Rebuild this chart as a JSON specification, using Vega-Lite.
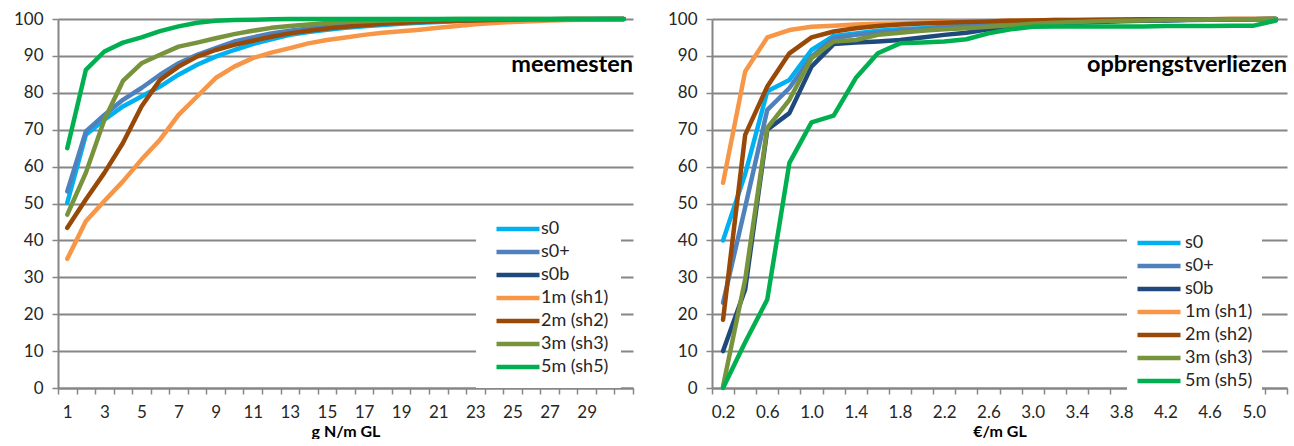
{
  "$schema": "https://vega.github.io/schema/vega-lite/v6.json",
  "background": "white",
  "padding": {"left": 0, "top": 10, "right": 5, "bottom": 0},
  "spacing": 11,
  "config": {
    "view": {"stroke": null},
    "font": "Lato",
    "axis": {
      "domainColor": "#868686", "domainWidth": 2,
      "tickColor": "#868686", "tickWidth": 1.5, "tickSize": 6,
      "gridColor": "#868686", "gridWidth": 2,
      "labelFont": "Lato", "labelColor": "#262626",
      "titleFont": "Lato", "titleColor": "#000000"
    },
    "line": {"strokeWidth": 4.5, "strokeJoin": "round", "strokeCap": "round"}
  },
  "resolve": {"legend": {"color": "independent"}},
  "datasets": {
    "meemesten": [
      {"x":1,"serie":"s0","v":50.2},{"x":2,"serie":"s0","v":68.6},{"x":3,"serie":"s0","v":72.7},{"x":4,"serie":"s0","v":76.3},{"x":5,"serie":"s0","v":79},{"x":6,"serie":"s0","v":81.7},{"x":7,"serie":"s0","v":84.9},{"x":8,"serie":"s0","v":87.6},{"x":9,"serie":"s0","v":89.8},{"x":10,"serie":"s0","v":91.6},{"x":11,"serie":"s0","v":93.2},{"x":12,"serie":"s0","v":94.5},{"x":13,"serie":"s0","v":95.7},{"x":14,"serie":"s0","v":96.5},{"x":15,"serie":"s0","v":97.1},{"x":16,"serie":"s0","v":97.6},{"x":17,"serie":"s0","v":98.0},{"x":18,"serie":"s0","v":98.4},{"x":19,"serie":"s0","v":98.7},{"x":20,"serie":"s0","v":99.0},{"x":21,"serie":"s0","v":99.2},{"x":22,"serie":"s0","v":99.4},{"x":23,"serie":"s0","v":99.5},{"x":24,"serie":"s0","v":99.6},{"x":25,"serie":"s0","v":99.7},{"x":26,"serie":"s0","v":99.8},{"x":27,"serie":"s0","v":99.85},{"x":28,"serie":"s0","v":99.9},{"x":29,"serie":"s0","v":99.95},{"x":30,"serie":"s0","v":100},{"x":31,"serie":"s0","v":100},
      {"x":1,"serie":"s0+","v":53.3},{"x":2,"serie":"s0+","v":69.5},{"x":3,"serie":"s0+","v":74},{"x":4,"serie":"s0+","v":78.1},{"x":5,"serie":"s0+","v":81.3},{"x":6,"serie":"s0+","v":84.9},{"x":7,"serie":"s0+","v":88},{"x":8,"serie":"s0+","v":90.3},{"x":9,"serie":"s0+","v":92.1},{"x":10,"serie":"s0+","v":93.9},{"x":11,"serie":"s0+","v":95},{"x":12,"serie":"s0+","v":96.1},{"x":13,"serie":"s0+","v":96.8},{"x":14,"serie":"s0+","v":97.4},{"x":15,"serie":"s0+","v":97.9},{"x":16,"serie":"s0+","v":98.3},{"x":17,"serie":"s0+","v":98.7},{"x":18,"serie":"s0+","v":99},{"x":19,"serie":"s0+","v":99.2},{"x":20,"serie":"s0+","v":99.4},{"x":21,"serie":"s0+","v":99.5},{"x":22,"serie":"s0+","v":99.6},{"x":23,"serie":"s0+","v":99.7},{"x":24,"serie":"s0+","v":99.8},{"x":25,"serie":"s0+","v":99.85},{"x":26,"serie":"s0+","v":99.9},{"x":27,"serie":"s0+","v":99.95},{"x":28,"serie":"s0+","v":100},{"x":29,"serie":"s0+","v":100},{"x":30,"serie":"s0+","v":100},{"x":31,"serie":"s0+","v":100},
      {"x":1,"serie":"1m (sh1)","v":35},{"x":2,"serie":"1m (sh1)","v":45.2},{"x":3,"serie":"1m (sh1)","v":50.7},{"x":4,"serie":"1m (sh1)","v":56},{"x":5,"serie":"1m (sh1)","v":61.9},{"x":6,"serie":"1m (sh1)","v":67.3},{"x":7,"serie":"1m (sh1)","v":74},{"x":8,"serie":"1m (sh1)","v":79},{"x":9,"serie":"1m (sh1)","v":84},{"x":10,"serie":"1m (sh1)","v":87.1},{"x":11,"serie":"1m (sh1)","v":89.4},{"x":12,"serie":"1m (sh1)","v":90.9},{"x":13,"serie":"1m (sh1)","v":92.1},{"x":14,"serie":"1m (sh1)","v":93.4},{"x":15,"serie":"1m (sh1)","v":94.3},{"x":16,"serie":"1m (sh1)","v":95},{"x":17,"serie":"1m (sh1)","v":95.7},{"x":18,"serie":"1m (sh1)","v":96.3},{"x":19,"serie":"1m (sh1)","v":96.7},{"x":20,"serie":"1m (sh1)","v":97.1},{"x":21,"serie":"1m (sh1)","v":97.6},{"x":22,"serie":"1m (sh1)","v":98.1},{"x":23,"serie":"1m (sh1)","v":98.6},{"x":24,"serie":"1m (sh1)","v":98.9},{"x":25,"serie":"1m (sh1)","v":99.2},{"x":26,"serie":"1m (sh1)","v":99.4},{"x":27,"serie":"1m (sh1)","v":99.6},{"x":28,"serie":"1m (sh1)","v":99.7},{"x":29,"serie":"1m (sh1)","v":99.8},{"x":30,"serie":"1m (sh1)","v":99.9},{"x":31,"serie":"1m (sh1)","v":100},
      {"x":1,"serie":"2m (sh2)","v":43.4},{"x":2,"serie":"2m (sh2)","v":51.1},{"x":3,"serie":"2m (sh2)","v":58.3},{"x":4,"serie":"2m (sh2)","v":66.4},{"x":5,"serie":"2m (sh2)","v":76.3},{"x":6,"serie":"2m (sh2)","v":83.5},{"x":7,"serie":"2m (sh2)","v":87.1},{"x":8,"serie":"2m (sh2)","v":89.8},{"x":9,"serie":"2m (sh2)","v":91.6},{"x":10,"serie":"2m (sh2)","v":93},{"x":11,"serie":"2m (sh2)","v":94.1},{"x":12,"serie":"2m (sh2)","v":95.2},{"x":13,"serie":"2m (sh2)","v":96.1},{"x":14,"serie":"2m (sh2)","v":96.8},{"x":15,"serie":"2m (sh2)","v":97.4},{"x":16,"serie":"2m (sh2)","v":97.9},{"x":17,"serie":"2m (sh2)","v":98.3},{"x":18,"serie":"2m (sh2)","v":98.7},{"x":19,"serie":"2m (sh2)","v":99},{"x":20,"serie":"2m (sh2)","v":99.2},{"x":21,"serie":"2m (sh2)","v":99.4},{"x":22,"serie":"2m (sh2)","v":99.5},{"x":23,"serie":"2m (sh2)","v":99.6},{"x":24,"serie":"2m (sh2)","v":99.7},{"x":25,"serie":"2m (sh2)","v":99.8},{"x":26,"serie":"2m (sh2)","v":99.9},{"x":27,"serie":"2m (sh2)","v":99.9},{"x":28,"serie":"2m (sh2)","v":100},{"x":29,"serie":"2m (sh2)","v":100},{"x":30,"serie":"2m (sh2)","v":100},{"x":31,"serie":"2m (sh2)","v":100},
      {"x":1,"serie":"3m (sh3)","v":47},{"x":2,"serie":"3m (sh3)","v":58.3},{"x":3,"serie":"3m (sh3)","v":72.7},{"x":4,"serie":"3m (sh3)","v":83.2},{"x":5,"serie":"3m (sh3)","v":88},{"x":6,"serie":"3m (sh3)","v":90.3},{"x":7,"serie":"3m (sh3)","v":92.5},{"x":8,"serie":"3m (sh3)","v":93.6},{"x":9,"serie":"3m (sh3)","v":94.8},{"x":10,"serie":"3m (sh3)","v":95.9},{"x":11,"serie":"3m (sh3)","v":96.8},{"x":12,"serie":"3m (sh3)","v":97.6},{"x":13,"serie":"3m (sh3)","v":98.1},{"x":14,"serie":"3m (sh3)","v":98.5},{"x":15,"serie":"3m (sh3)","v":98.9},{"x":16,"serie":"3m (sh3)","v":99.2},{"x":17,"serie":"3m (sh3)","v":99.4},{"x":18,"serie":"3m (sh3)","v":99.6},{"x":19,"serie":"3m (sh3)","v":99.7},{"x":20,"serie":"3m (sh3)","v":99.8},{"x":21,"serie":"3m (sh3)","v":99.9},{"x":22,"serie":"3m (sh3)","v":100},{"x":23,"serie":"3m (sh3)","v":100},{"x":24,"serie":"3m (sh3)","v":100},{"x":25,"serie":"3m (sh3)","v":100},{"x":26,"serie":"3m (sh3)","v":100},{"x":27,"serie":"3m (sh3)","v":100},{"x":28,"serie":"3m (sh3)","v":100},{"x":29,"serie":"3m (sh3)","v":100},{"x":30,"serie":"3m (sh3)","v":100},{"x":31,"serie":"3m (sh3)","v":100},
      {"x":1,"serie":"5m (sh5)","v":65},{"x":2,"serie":"5m (sh5)","v":86.2},{"x":3,"serie":"5m (sh5)","v":91.2},{"x":4,"serie":"5m (sh5)","v":93.6},{"x":5,"serie":"5m (sh5)","v":95},{"x":6,"serie":"5m (sh5)","v":96.7},{"x":7,"serie":"5m (sh5)","v":98},{"x":8,"serie":"5m (sh5)","v":99},{"x":9,"serie":"5m (sh5)","v":99.5},{"x":10,"serie":"5m (sh5)","v":99.7},{"x":11,"serie":"5m (sh5)","v":99.8},{"x":12,"serie":"5m (sh5)","v":99.9},{"x":13,"serie":"5m (sh5)","v":100},{"x":14,"serie":"5m (sh5)","v":100},{"x":15,"serie":"5m (sh5)","v":100},{"x":16,"serie":"5m (sh5)","v":100},{"x":17,"serie":"5m (sh5)","v":100},{"x":18,"serie":"5m (sh5)","v":100},{"x":19,"serie":"5m (sh5)","v":100},{"x":20,"serie":"5m (sh5)","v":100},{"x":21,"serie":"5m (sh5)","v":100},{"x":22,"serie":"5m (sh5)","v":100},{"x":23,"serie":"5m (sh5)","v":100},{"x":24,"serie":"5m (sh5)","v":100},{"x":25,"serie":"5m (sh5)","v":100},{"x":26,"serie":"5m (sh5)","v":100},{"x":27,"serie":"5m (sh5)","v":100},{"x":28,"serie":"5m (sh5)","v":100},{"x":29,"serie":"5m (sh5)","v":100},{"x":30,"serie":"5m (sh5)","v":100},{"x":31,"serie":"5m (sh5)","v":100}
    ],
    "opbrengst": [
      {"x":0.2,"serie":"s0","v":40},{"x":0.4,"serie":"s0","v":58},{"x":0.6,"serie":"s0","v":80.4},{"x":0.8,"serie":"s0","v":83.5},{"x":1.0,"serie":"s0","v":91.6},{"x":1.2,"serie":"s0","v":95.4},{"x":1.4,"serie":"s0","v":96.1},{"x":1.6,"serie":"s0","v":96.8},{"x":1.8,"serie":"s0","v":97.2},{"x":2.0,"serie":"s0","v":97.5},{"x":2.2,"serie":"s0","v":97.9},{"x":2.4,"serie":"s0","v":98.3},{"x":2.6,"serie":"s0","v":98.6},{"x":2.8,"serie":"s0","v":98.9},{"x":3.0,"serie":"s0","v":99.1},{"x":3.2,"serie":"s0","v":99.3},{"x":3.4,"serie":"s0","v":99.4},{"x":3.6,"serie":"s0","v":99.5},{"x":3.8,"serie":"s0","v":99.6},{"x":4.0,"serie":"s0","v":99.7},{"x":4.2,"serie":"s0","v":99.75},{"x":4.4,"serie":"s0","v":99.8},{"x":4.6,"serie":"s0","v":99.85},{"x":4.8,"serie":"s0","v":99.9},{"x":5.0,"serie":"s0","v":99.95},{"x":5.2,"serie":"s0","v":100},
      {"x":0.2,"serie":"s0+","v":23.1},{"x":0.4,"serie":"s0+","v":49},{"x":0.6,"serie":"s0+","v":75.4},{"x":0.8,"serie":"s0+","v":81.3},{"x":1.0,"serie":"s0+","v":89.8},{"x":1.2,"serie":"s0+","v":94.8},{"x":1.4,"serie":"s0+","v":95.7},{"x":1.6,"serie":"s0+","v":96.3},{"x":1.8,"serie":"s0+","v":96.8},{"x":2.0,"serie":"s0+","v":97.2},{"x":2.2,"serie":"s0+","v":97.6},{"x":2.4,"serie":"s0+","v":98},{"x":2.6,"serie":"s0+","v":98.4},{"x":2.8,"serie":"s0+","v":98.7},{"x":3.0,"serie":"s0+","v":99},{"x":3.2,"serie":"s0+","v":99.2},{"x":3.4,"serie":"s0+","v":99.4},{"x":3.6,"serie":"s0+","v":99.5},{"x":3.8,"serie":"s0+","v":99.6},{"x":4.0,"serie":"s0+","v":99.7},{"x":4.2,"serie":"s0+","v":99.75},{"x":4.4,"serie":"s0+","v":99.8},{"x":4.6,"serie":"s0+","v":99.85},{"x":4.8,"serie":"s0+","v":99.9},{"x":5.0,"serie":"s0+","v":99.95},{"x":5.2,"serie":"s0+","v":100},
      {"x":0.2,"serie":"s0b","v":10},{"x":0.4,"serie":"s0b","v":26.7},{"x":0.6,"serie":"s0b","v":70},{"x":0.8,"serie":"s0b","v":74.5},{"x":1.0,"serie":"s0b","v":87.1},{"x":1.2,"serie":"s0b","v":93.2},{"x":1.4,"serie":"s0b","v":93.6},{"x":1.6,"serie":"s0b","v":93.9},{"x":1.8,"serie":"s0b","v":94.3},{"x":2.0,"serie":"s0b","v":95},{"x":2.2,"serie":"s0b","v":95.7},{"x":2.4,"serie":"s0b","v":96.3},{"x":2.6,"serie":"s0b","v":97.2},{"x":2.8,"serie":"s0b","v":97.8},{"x":3.0,"serie":"s0b","v":98.3},{"x":3.2,"serie":"s0b","v":98.7},{"x":3.4,"serie":"s0b","v":99},{"x":3.6,"serie":"s0b","v":99.2},{"x":3.8,"serie":"s0b","v":99.4},{"x":4.0,"serie":"s0b","v":99.5},{"x":4.2,"serie":"s0b","v":99.6},{"x":4.4,"serie":"s0b","v":99.7},{"x":4.6,"serie":"s0b","v":99.8},{"x":4.8,"serie":"s0b","v":99.85},{"x":5.0,"serie":"s0b","v":99.9},{"x":5.2,"serie":"s0b","v":100},
      {"x":0.2,"serie":"1m (sh1)","v":55.6},{"x":0.4,"serie":"1m (sh1)","v":85.8},{"x":0.6,"serie":"1m (sh1)","v":95},{"x":0.8,"serie":"1m (sh1)","v":97},{"x":1.0,"serie":"1m (sh1)","v":97.9},{"x":1.2,"serie":"1m (sh1)","v":98.2},{"x":1.4,"serie":"1m (sh1)","v":98.5},{"x":1.6,"serie":"1m (sh1)","v":98.7},{"x":1.8,"serie":"1m (sh1)","v":98.8},{"x":2.0,"serie":"1m (sh1)","v":99},{"x":2.2,"serie":"1m (sh1)","v":99.2},{"x":2.4,"serie":"1m (sh1)","v":99.3},{"x":2.6,"serie":"1m (sh1)","v":99.4},{"x":2.8,"serie":"1m (sh1)","v":99.5},{"x":3.0,"serie":"1m (sh1)","v":99.6},{"x":3.2,"serie":"1m (sh1)","v":99.7},{"x":3.4,"serie":"1m (sh1)","v":99.75},{"x":3.6,"serie":"1m (sh1)","v":99.8},{"x":3.8,"serie":"1m (sh1)","v":99.85},{"x":4.0,"serie":"1m (sh1)","v":99.9},{"x":4.2,"serie":"1m (sh1)","v":99.9},{"x":4.4,"serie":"1m (sh1)","v":99.95},{"x":4.6,"serie":"1m (sh1)","v":99.95},{"x":4.8,"serie":"1m (sh1)","v":100},{"x":5.0,"serie":"1m (sh1)","v":100},{"x":5.2,"serie":"1m (sh1)","v":100},
      {"x":0.2,"serie":"2m (sh2)","v":18.5},{"x":0.4,"serie":"2m (sh2)","v":68.6},{"x":0.6,"serie":"2m (sh2)","v":81.7},{"x":0.8,"serie":"2m (sh2)","v":90.7},{"x":1.0,"serie":"2m (sh2)","v":95},{"x":1.2,"serie":"2m (sh2)","v":96.6},{"x":1.4,"serie":"2m (sh2)","v":97.5},{"x":1.6,"serie":"2m (sh2)","v":98.1},{"x":1.8,"serie":"2m (sh2)","v":98.5},{"x":2.0,"serie":"2m (sh2)","v":98.8},{"x":2.2,"serie":"2m (sh2)","v":99},{"x":2.4,"serie":"2m (sh2)","v":99.2},{"x":2.6,"serie":"2m (sh2)","v":99.35},{"x":2.8,"serie":"2m (sh2)","v":99.5},{"x":3.0,"serie":"2m (sh2)","v":99.6},{"x":3.2,"serie":"2m (sh2)","v":99.7},{"x":3.4,"serie":"2m (sh2)","v":99.75},{"x":3.6,"serie":"2m (sh2)","v":99.8},{"x":3.8,"serie":"2m (sh2)","v":99.85},{"x":4.0,"serie":"2m (sh2)","v":99.9},{"x":4.2,"serie":"2m (sh2)","v":99.9},{"x":4.4,"serie":"2m (sh2)","v":99.95},{"x":4.6,"serie":"2m (sh2)","v":99.95},{"x":4.8,"serie":"2m (sh2)","v":100},{"x":5.0,"serie":"2m (sh2)","v":100},{"x":5.2,"serie":"2m (sh2)","v":100},
      {"x":0.2,"serie":"3m (sh3)","v":0.5},{"x":0.4,"serie":"3m (sh3)","v":29.4},{"x":0.6,"serie":"3m (sh3)","v":70.5},{"x":0.8,"serie":"3m (sh3)","v":78.1},{"x":1.0,"serie":"3m (sh3)","v":89.4},{"x":1.2,"serie":"3m (sh3)","v":93.9},{"x":1.4,"serie":"3m (sh3)","v":94.3},{"x":1.6,"serie":"3m (sh3)","v":95.7},{"x":1.8,"serie":"3m (sh3)","v":96.3},{"x":2.0,"serie":"3m (sh3)","v":96.8},{"x":2.2,"serie":"3m (sh3)","v":97.2},{"x":2.4,"serie":"3m (sh3)","v":97.5},{"x":2.6,"serie":"3m (sh3)","v":97.9},{"x":2.8,"serie":"3m (sh3)","v":98.3},{"x":3.0,"serie":"3m (sh3)","v":98.7},{"x":3.2,"serie":"3m (sh3)","v":99},{"x":3.4,"serie":"3m (sh3)","v":99.2},{"x":3.6,"serie":"3m (sh3)","v":99.4},{"x":3.8,"serie":"3m (sh3)","v":99.5},{"x":4.0,"serie":"3m (sh3)","v":99.6},{"x":4.2,"serie":"3m (sh3)","v":99.7},{"x":4.4,"serie":"3m (sh3)","v":99.8},{"x":4.6,"serie":"3m (sh3)","v":99.85},{"x":4.8,"serie":"3m (sh3)","v":99.9},{"x":5.0,"serie":"3m (sh3)","v":99.95},{"x":5.2,"serie":"3m (sh3)","v":100},
      {"x":0.2,"serie":"5m (sh5)","v":0},{"x":0.4,"serie":"5m (sh5)","v":12.4},{"x":0.6,"serie":"5m (sh5)","v":24},{"x":0.8,"serie":"5m (sh5)","v":61},{"x":1.0,"serie":"5m (sh5)","v":72},{"x":1.2,"serie":"5m (sh5)","v":73.8},{"x":1.4,"serie":"5m (sh5)","v":84},{"x":1.6,"serie":"5m (sh5)","v":90.7},{"x":1.8,"serie":"5m (sh5)","v":93.4},{"x":2.0,"serie":"5m (sh5)","v":93.6},{"x":2.2,"serie":"5m (sh5)","v":93.9},{"x":2.4,"serie":"5m (sh5)","v":94.5},{"x":2.6,"serie":"5m (sh5)","v":96.1},{"x":2.8,"serie":"5m (sh5)","v":97.2},{"x":3.0,"serie":"5m (sh5)","v":97.9},{"x":3.2,"serie":"5m (sh5)","v":98},{"x":3.4,"serie":"5m (sh5)","v":98},{"x":3.6,"serie":"5m (sh5)","v":98},{"x":3.8,"serie":"5m (sh5)","v":98},{"x":4.0,"serie":"5m (sh5)","v":98},{"x":4.2,"serie":"5m (sh5)","v":98.1},{"x":4.4,"serie":"5m (sh5)","v":98.1},{"x":4.6,"serie":"5m (sh5)","v":98.1},{"x":4.8,"serie":"5m (sh5)","v":98.2},{"x":5.0,"serie":"5m (sh5)","v":98.2},{"x":5.2,"serie":"5m (sh5)","v":99.6}
    ]
  },
  "hconcat": [
    {
      "width": 575,
      "height": 369,
      "data": {"name": "meemesten"},
      "title": {"text": "meemesten", "anchor": "end", "frame": "group", "offset": -66, "fontSize": 23.5, "fontWeight": "bold", "font": "Lato", "color": "#000000"},
      "mark": {"type": "line"},
      "encoding": {
        "x": {
          "field": "x", "type": "quantitative",
          "scale": {"domain": [0.5, 31.5], "nice": false, "zero": false},
          "axis": {
            "title": "g N/m GL", "titleFontSize": 16, "titleFontWeight": "bold", "titlePadding": 3,
            "grid": false, "labelFontSize": 17, "labelPadding": 10, "labelOffset": 9.27,
            "labelOverlap": false, "labelBound": false, "labelFlush": false,
            "values": [0.5,1.5,2.5,3.5,4.5,5.5,6.5,7.5,8.5,9.5,10.5,11.5,12.5,13.5,14.5,15.5,16.5,17.5,18.5,19.5,20.5,21.5,22.5,23.5,24.5,25.5,26.5,27.5,28.5,29.5,30.5,31.5],
            "labelExpr": "((datum.value + 0.5) % 2 == 1 && datum.value < 30) ? '' + (datum.value + 0.5) : ''"
          }
        },
        "y": {
          "field": "v", "type": "quantitative",
          "scale": {"domain": [0, 100], "nice": false},
          "axis": {"title": null, "values": [0,10,20,30,40,50,60,70,80,90,100], "labelFontSize": 17, "labelPadding": 9, "minExtent": 58, "maxExtent": 58, "grid": true}
        },
        "color": {
          "field": "serie", "type": "nominal",
          "scale": {"domain": ["s0","s0+","s0b","1m (sh1)","2m (sh2)","3m (sh3)","5m (sh5)"], "range": ["#00B0F0","#4F81BD","#1F497D","#F79646","#984807","#77933C","#00B050"]},
          "legend": {"orient": "none", "legendX": 418, "legendY": 189, "title": null, "symbolType": "M-4.3,0H4.3", "symbolSize": 100, "symbolStrokeWidth": 5, "labelFontSize": 18, "labelFont": "Lato", "labelColor": "#262626", "fillColor": "white", "padding": 12, "symbolOffset": 21, "rowPadding": 5, "labelOffset": 14}
        }
      }
    },
    {
      "width": 575,
      "height": 369,
      "data": {"name": "opbrengst"},
      "title": {"text": "opbrengstverliezen", "anchor": "end", "frame": "group", "offset": -66, "fontSize": 23.5, "fontWeight": "bold", "font": "Lato", "color": "#000000"},
      "mark": {"type": "line"},
      "encoding": {
        "x": {
          "field": "x", "type": "quantitative",
          "scale": {"domain": [0.1, 5.3], "nice": false, "zero": false},
          "axis": {
            "title": "€/m GL", "titleFontSize": 16, "titleFontWeight": "bold", "titlePadding": 3,
            "grid": false, "labelFontSize": 17, "labelPadding": 10, "labelOffset": 11.06,
            "labelOverlap": false, "labelBound": false, "labelFlush": false,
            "values": [0.1,0.3,0.5,0.7,0.9,1.1,1.3,1.5,1.7,1.9,2.1,2.3,2.5,2.7,2.9,3.1,3.3,3.5,3.7,3.9,4.1,4.3,4.5,4.7,4.9,5.1,5.3],
            "labelExpr": "(round((datum.value - 0.1) / 0.2) % 2 == 0 && datum.value < 5.05) ? format(datum.value + 0.1, '.1f') : ''"
          }
        },
        "y": {
          "field": "v", "type": "quantitative",
          "scale": {"domain": [0, 100], "nice": false},
          "axis": {"title": null, "values": [0,10,20,30,40,50,60,70,80,90,100], "labelFontSize": 17, "labelPadding": 9, "minExtent": 58, "maxExtent": 58, "grid": true}
        },
        "color": {
          "field": "serie", "type": "nominal",
          "scale": {"domain": ["s0","s0+","s0b","1m (sh1)","2m (sh2)","3m (sh3)","5m (sh5)"], "range": ["#00B0F0","#4F81BD","#1F497D","#F79646","#984807","#77933C","#00B050"]},
          "legend": {"orient": "none", "legendX": 415, "legendY": 206, "title": null, "symbolType": "M-4.3,0H4.3", "symbolSize": 100, "symbolStrokeWidth": 5, "labelFontSize": 18, "labelFont": "Lato", "labelColor": "#262626", "fillColor": "white", "padding": 9, "symbolOffset": 14, "rowPadding": 5, "labelOffset": 17}
        }
      }
    }
  ]
}
